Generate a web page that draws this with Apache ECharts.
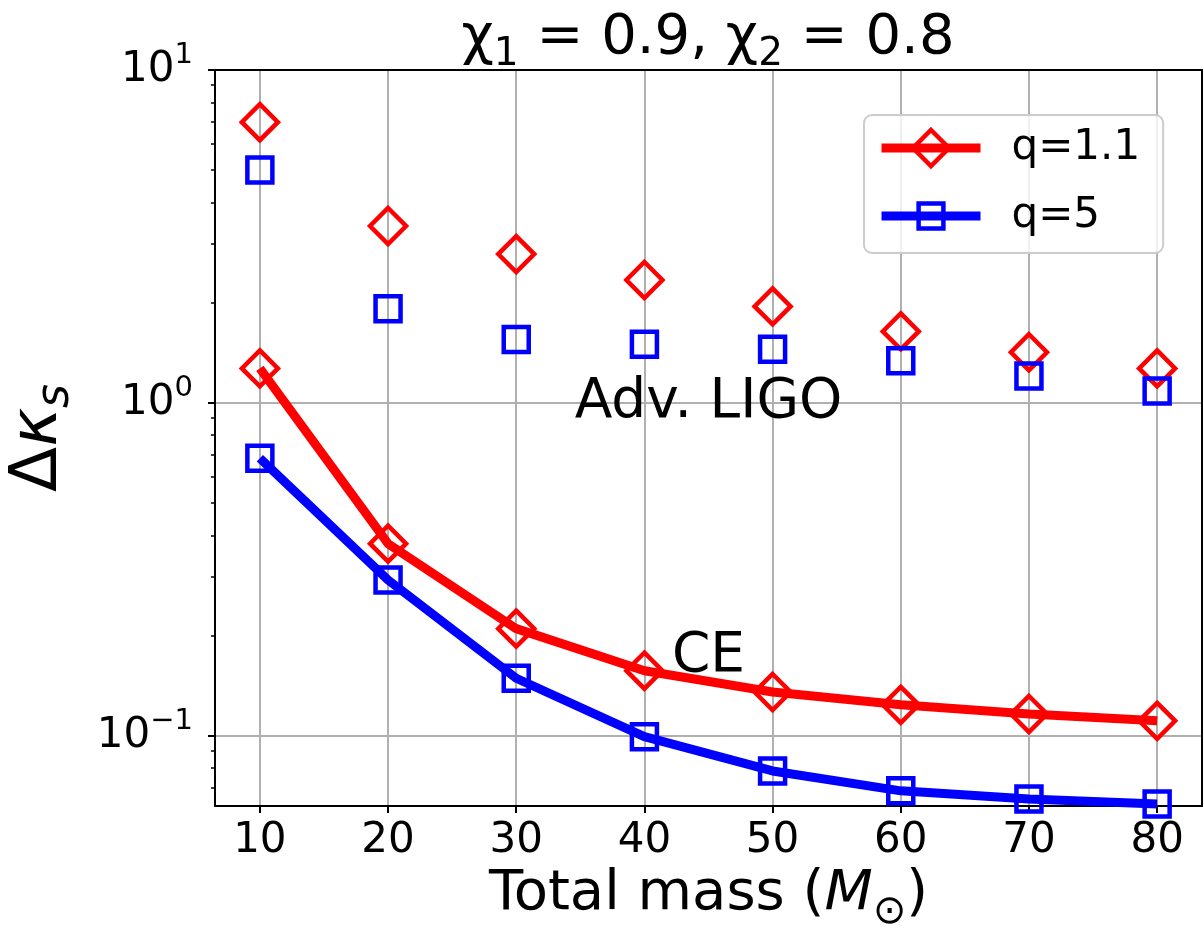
<!DOCTYPE html>
<html><head><meta charset="utf-8">
<script src="https://cdn.jsdelivr.net/npm/echarts@6/dist/echarts.min.js"></script>
<style>html,body{margin:0;padding:0;background:#fff}#c{width:1204px;height:931px}</style>
</head><body><div id="c"></div>
<script>
// ---- data ----
const masses = [10, 20, 30, 40, 50, 60, 70, 80];
const ligoQ11 = [6.97, 3.40, 2.80, 2.34, 1.95, 1.64, 1.42, 1.27];
const ligoQ5 = [5.01, 1.92, 1.55, 1.50, 1.45, 1.34, 1.205, 1.087];
const ceQ11 = [1.27, 0.378, 0.210, 0.157, 0.1355, 0.124, 0.1164, 0.111];
const ceQ5 = [0.682, 0.294, 0.149, 0.0995, 0.0785, 0.0684, 0.0647, 0.0625];
const xTicks = [10, 20, 30, 40, 50, 60, 70, 80];
const yMajorTicks = [0.1, 1, 10];
const yMinorTicks = [0.07, 0.08, 0.09, 0.2, 0.3, 0.4, 0.5, 0.6, 0.7, 0.8, 0.9, 2, 3, 4, 5, 6, 7, 8, 9];
const yTickExponents = ['\u22121', '0', '1'];
const legendNames = ['q=1.1', 'q=5'];
const annotationTexts = ['Adv. LIGO', 'CE'];
const annotationX = [45, 45];
const annotationY = [1.0, 0.173];

const FONT = 'DejaVu Sans';
const RED = '#ff0000', BLUE = '#0000ff';
const X_MIN = 6.5, X_MAX = 83.5, Y_MIN = 0.0616, Y_MAX = 10;

const pairs = (xs, ys) => xs.map((x, i) => [x, ys[i]]);

function markerStyle(color) {
  return { color: 'rgba(255,255,255,0)', borderColor: color, borderWidth: 4.5, opacity: 1 };
}

const chart = echarts.init(document.getElementById('c'), null, { renderer: 'canvas' });

const legendText = { fontFamily: FONT, fontSize: 42, color: '#000', lineHeight: 40, padding: [0, 0, 0, 26] };

const option = {
  animation: false,
  backgroundColor: '#ffffff',
  textStyle: { fontFamily: FONT },
  title: {
    text: '{n|\u03c7}{s|1}{n| = 0.9, \u03c7}{s|2}{n| = 0.8}',
    left: 708, top: 6, padding: 0, textAlign: 'center',
    textStyle: {
      fontWeight: 'normal',
      rich: {
        n: { fontFamily: FONT, fontSize: 56, fontWeight: 'normal', color: '#000', lineHeight: 64 },
        s: { fontFamily: FONT, fontSize: 39, fontWeight: 'normal', color: '#000', lineHeight: 39, verticalAlign: 'bottom', padding: [0, 0, -4, 0] }
      }
    }
  },
  grid: { left: 215, right: 2, top: 70, bottom: 125, containLabel: false, outerBoundsMode: 'none' },
  legend: [
    {
      data: [legendNames[0]],
      left: 864, top: 115, orient: 'vertical',
      padding: [12, 23, 84, 13],
      itemWidth: 99, itemHeight: 45,
      lineStyle: { width: 9 },
      itemStyle: { borderWidth: 4.5 },
      backgroundColor: 'rgba(255,255,255,0.8)', borderColor: '#cccccc', borderWidth: 2, borderRadius: 8,
      textStyle: legendText,
      selectedMode: false
    },
    {
      data: [legendNames[1]],
      left: 877, top: 195, orient: 'vertical',
      padding: 0,
      itemWidth: 99, itemHeight: 31,
      lineStyle: { width: 9 },
      itemStyle: { borderWidth: 4.5 },
      textStyle: legendText,
      selectedMode: false
    }
  ],
  xAxis: [
    {
      type: 'value', min: X_MIN, max: X_MAX, position: 'bottom',
      name: '{n|Total mass (}{m|M}{s|\u2299}{n|)}',
      nameLocation: 'middle', nameGap: 43,
      nameTextStyle: {
        rich: {
          n: { fontFamily: FONT, fontSize: 56, color: '#000', lineHeight: 64 },
          m: { fontFamily: FONT, fontSize: 56, color: '#000', fontStyle: 'italic', lineHeight: 64 },
          s: { fontFamily: FONT, fontSize: 40, color: '#000', lineHeight: 40, verticalAlign: 'bottom', padding: [0, 0, -6, 0] }
        }
      },
      axisLine: { show: true, lineStyle: { color: '#000', width: 2 } },
      axisTick: { show: true, inside: false, length: 7, customValues: xTicks, lineStyle: { color: '#000', width: 2 } },
      axisLabel: { show: true, margin: 14, customValues: xTicks, fontFamily: FONT, fontSize: 42, color: '#000' },
      splitLine: { show: true, lineStyle: { color: '#b0b0b0', width: 2 } }
    },
    {
      type: 'value', min: X_MIN, max: X_MAX, position: 'top', z: 5,
      axisLine: { show: true, lineStyle: { color: '#000', width: 2 } },
      axisTick: { show: false }, axisLabel: { show: false }, splitLine: { show: false }
    }
  ],
  yAxis: [
    {
      type: 'log', logBase: 10, min: Y_MIN, max: Y_MAX, position: 'left',
      name: '{d|\u0394}{k|\u03ba}{s|s}',
      nameLocation: 'middle', nameRotate: 90, nameGap: 140,
      nameTextStyle: {
        rich: {
          d: { fontFamily: FONT, fontSize: 66, color: '#000', lineHeight: 72 },
          k: { fontFamily: FONT, fontSize: 66, color: '#000', fontStyle: 'italic', lineHeight: 72 },
          s: { fontFamily: FONT, fontSize: 46, color: '#000', fontStyle: 'italic', lineHeight: 46, verticalAlign: 'bottom', padding: [0, 0, -4, 0] }
        }
      },
      axisLine: { show: true, lineStyle: { color: '#000', width: 2 } },
      axisTick: { show: true, inside: false, length: 7, customValues: yMajorTicks, lineStyle: { color: '#000', width: 2 } },
      axisLabel: {
        show: true, margin: 22, customValues: yMajorTicks,
        formatter: function (v) {
          const e = Math.round(Math.log10(v));
          const idx = yMajorTicks.findIndex(t => Math.round(Math.log10(t)) === e);
          return '{b|10}{p|' + yTickExponents[idx] + '}';
        },
        rich: {
          b: { fontFamily: FONT, fontSize: 42, color: '#000', lineHeight: 58 },
          p: { fontFamily: FONT, fontSize: 29, color: '#000', lineHeight: 29, verticalAlign: 'top' }
        }
      },
      splitLine: { show: true, lineStyle: { color: '#b0b0b0', width: 2 } }
    },
    {
      type: 'log', logBase: 10, min: Y_MIN, max: Y_MAX, position: 'left',
      axisLine: { show: false },
      axisTick: { show: true, inside: false, length: 4, customValues: yMinorTicks, lineStyle: { color: '#000', width: 1.5 } },
      axisLabel: { show: false }, splitLine: { show: false }
    },
    {
      type: 'log', logBase: 10, min: Y_MIN, max: Y_MAX, position: 'right', z: 5,
      axisLine: { show: true, lineStyle: { color: '#000', width: 2 } },
      axisTick: { show: false }, axisLabel: { show: false }, splitLine: { show: false }
    }
  ],
  series: [
    {
      name: legendNames[0], type: 'line', data: pairs(masses, ceQ11),
      symbol: 'diamond', symbolSize: 36, showSymbol: true,
      itemStyle: markerStyle(RED), lineStyle: { color: RED, width: 9 },
      emphasis: { disabled: true }, z: 3
    },
    {
      name: legendNames[1], type: 'line', data: pairs(masses, ceQ5),
      symbol: 'rect', symbolSize: 25, showSymbol: true,
      itemStyle: markerStyle(BLUE), lineStyle: { color: BLUE, width: 9 },
      emphasis: { disabled: true }, z: 3
    },
    {
      name: 'Adv. LIGO ' + legendNames[0], type: 'scatter', data: pairs(masses, ligoQ11),
      symbol: 'diamond', symbolSize: 36, itemStyle: markerStyle(RED), emphasis: { disabled: true }, z: 3
    },
    {
      name: 'Adv. LIGO ' + legendNames[1], type: 'scatter', data: pairs(masses, ligoQ5),
      symbol: 'rect', symbolSize: 25, itemStyle: markerStyle(BLUE), emphasis: { disabled: true }, z: 3
    },
    {
      name: 'annotations', type: 'scatter', symbolSize: 0, silent: true, z: 4,
      itemStyle: { opacity: 1 },
      data: annotationTexts.map((t, i) => ({ name: t, value: [annotationX[i], annotationY[i]] })),
      label: {
        show: true, position: 'inside', formatter: p => p.name,
        fontFamily: FONT, fontSize: 55, color: '#000', opacity: 1
      }
    }
  ]
};
chart.setOption(option);
</script></body></html>
